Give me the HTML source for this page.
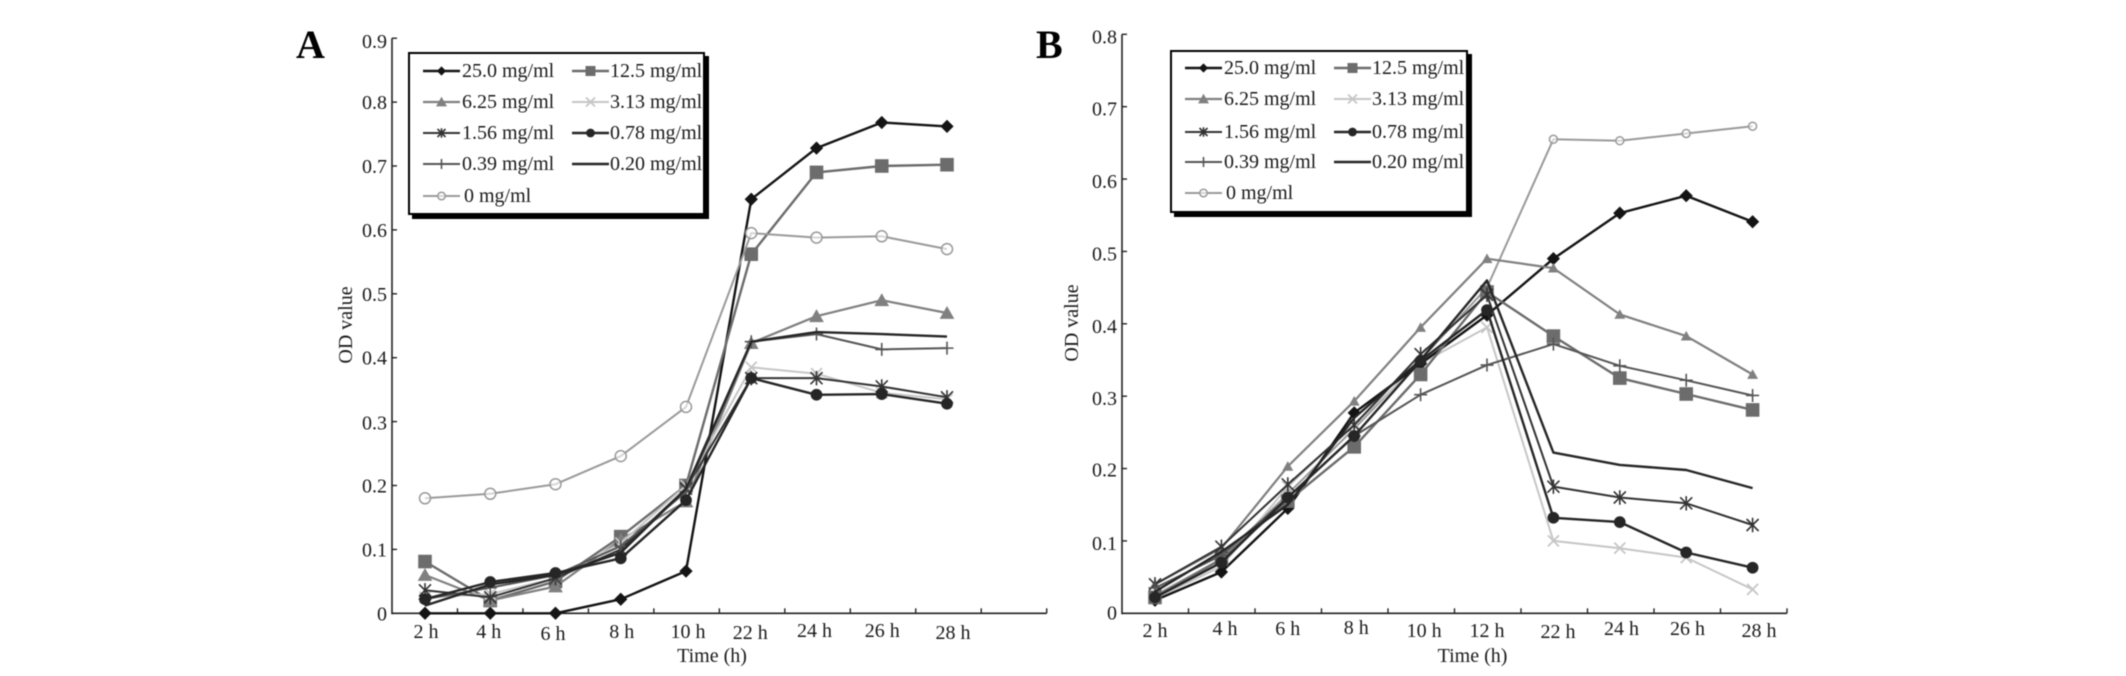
<!DOCTYPE html>
<html lang="en">
<head>
<meta charset="utf-8">
<title>OD value over time, panels A and B</title>
<style>
html,body{margin:0;padding:0;background:#fff;width:2126px;height:676px;overflow:hidden}
svg{display:block;filter:blur(0.4px)}
text{font-family:"Liberation Serif",serif;font-size:20px;fill:#1a1a1a}
</style>
</head>
<body>
<svg id="figure" xmlns="http://www.w3.org/2000/svg" width="2126" height="676" viewBox="0 0 2126 676"></svg>
<script>
// ---- Categories and tick labels ----
const categoriesA = ['2 h','4 h','6 h','8 h','10 h','22 h','24 h','26 h','28 h'];
const categoriesB = ['2 h','4 h','6 h','8 h','10 h','12 h','22 h','24 h','26 h','28 h'];
const yTicksA = [0,0.1,0.2,0.3,0.4,0.5,0.6,0.7,0.8,0.9];
const yTicksB = [0,0.1,0.2,0.3,0.4,0.5,0.6,0.7,0.8];
const seriesNames = ['25.0 mg/ml','12.5 mg/ml','6.25 mg/ml','3.13 mg/ml','1.56 mg/ml','0.78 mg/ml','0.39 mg/ml','0.20 mg/ml','0 mg/ml'];

// ---- Panel A values ----
const a250 = [0,0,0,0.022,0.066,0.648,0.728,0.768,0.762];
const a125 = [0.081,0.02,0.05,0.12,0.2,0.562,0.69,0.7,0.702];
const a625 = [0.06,0.02,0.042,0.115,0.175,0.423,0.465,0.49,0.47];
const a313 = [0.025,0.03,0.055,0.11,0.2,0.385,0.375,0.345,0.335];
const a156 = [0.036,0.025,0.055,0.1,0.195,0.368,0.368,0.355,0.338];
const a078 = [0.022,0.049,0.063,0.086,0.177,0.368,0.342,0.343,0.328];
const a039 = [0.022,0.04,0.06,0.105,0.19,0.425,0.437,0.413,0.415];
const a020 = [0.012,0.045,0.06,0.095,0.195,0.425,0.44,0.437,0.433];
const a000 = [0.18,0.187,0.202,0.246,0.323,0.595,0.588,0.59,0.57];

// ---- Panel B values ----
const b250 = [0.018,0.057,0.145,0.277,0.345,0.412,0.49,0.553,0.577,0.541];
const b125 = [0.022,0.075,0.155,0.23,0.33,0.444,0.383,0.325,0.303,0.281];
const b625 = [0.04,0.09,0.203,0.293,0.395,0.49,0.477,0.413,0.383,0.33];
const b313 = [0.02,0.065,0.175,0.262,0.345,0.395,0.1,0.09,0.077,0.033];
const b156 = [0.04,0.092,0.178,0.26,0.358,0.44,0.175,0.16,0.152,0.122];
const b078 = [0.022,0.07,0.16,0.245,0.349,0.419,0.132,0.126,0.084,0.063];
const b039 = [0.035,0.08,0.16,0.245,0.302,0.343,0.372,0.342,0.322,0.301];
const b020 = [0.03,0.085,0.15,0.27,0.35,0.46,0.222,0.205,0.198,0.173];
const b000 = [0.025,0.075,0.165,0.255,0.35,0.45,0.655,0.653,0.663,0.673];

const valuesA = [a250,a125,a625,a313,a156,a078,a039,a020,a000];
const valuesB = [b250,b125,b625,b313,b156,b078,b039,b020,b000];

// ---- Styling (not data) ----
const styles = [
  {color:'#141414',marker:'diamond',w:2.4},
  {color:'#6c6c6c',marker:'square',w:2.4},
  {color:'#808080',marker:'triangle',w:2.2},
  {color:'#c6c6c6',marker:'cross',w:2},
  {color:'#333333',marker:'star',w:2},
  {color:'#262626',marker:'dot',w:2.4},
  {color:'#555555',marker:'plus',w:2},
  {color:'#262626',marker:'none',w:2.4},
  {color:'#9a9a9a',marker:'ring',w:2}
];

const panels = [
  {id:'a',letter:'A',letterX:296,cats:categoriesA,ticks:yTicksA,vals:valuesA,
   axisX:392,axisEnd:1046.7,top:38.2,bottom:613.3,yMax:0.9,firstX:425,stepX:65.25,bandCount:10,
   order:[0,1,2,3,4,6,7,8,5],
   yLabelRight:387,yLabelDy:[7,7,7,8,7,7,7,7,7,10],
   xNudge:[1,-1.5,-2.5,1,2,-1,-2,0.5,6],xBase:[638,638,640,638,638,639,637,637,639],
   timeX:712,timeY:662,odX:352,odY:325,
   legend:{x:409,y:53,w:295,h:161,rows:[71,102,133,164,196],col:[423,572],lineW:37,text:[462,610]},
   ringR:5.5,triSize:7},
  {id:'b',letter:'B',letterX:1036,cats:categoriesB,ticks:yTicksB,vals:valuesB,
   axisX:1122,axisEnd:1787,top:34.3,bottom:613.3,yMax:0.8,firstX:1155,stepX:66.4,bandCount:10,
   order:[8,3,0,1,2,4,6,7,5],
   yLabelRight:1117,yLabelDy:[6,9,8,9,9,9,9,9,9],
   xNudge:[0,3.6,0,2,3.5,0,4.6,1.7,1.3,6.4],xBase:[637,635,635,634,637,637,638,635,635,637],
   timeX:1472.5,timeY:662,odX:1078,odY:323,
   legend:{x:1171,y:51,w:296,h:161,rows:[68,99,132,162,193],col:[1185,1334],lineW:37,text:[1224,1372]},
   ringR:4,triSize:5.2}
];

const NS = 'http://www.w3.org/2000/svg';
const root = document.getElementById('figure');
function make(tag, attrs, parent, txt){
  const n = document.createElementNS(NS, tag);
  for (const k in attrs) n.setAttribute(k, attrs[k]);
  if (txt !== undefined) n.textContent = txt;
  parent.appendChild(n);
  return n;
}

function drawMarker(parent, kind, x, y, color, s){
  const g = make('g', {}, parent);
  if (kind === 'diamond') make('polygon',{points:[x,y-s*1.05,x+s*1.05,y,x,y+s*1.05,x-s*1.05,y].join(' '),fill:color},g);
  else if (kind === 'square') make('rect',{x:x-s,y:y-s,width:2*s,height:2*s,fill:color},g);
  else if (kind === 'triangle') make('polygon',{points:[x,y-s,x+s*1.05,y+s*0.85,x-s*1.05,y+s*0.85].join(' '),fill:color},g);
  else if (kind === 'dot') make('circle',{cx:x,cy:y,r:s*0.93,fill:color},g);
  else if (kind === 'ring') make('circle',{cx:x,cy:y,r:s,fill:'#fff','fill-opacity':0.6,stroke:color,'stroke-width':1.5},g);
  else if (kind === 'cross') make('path',{d:`M${x-s} ${y-s}L${x+s} ${y+s}M${x-s} ${y+s}L${x+s} ${y-s}`,stroke:color,'stroke-width':1.8,fill:'none'},g);
  else if (kind === 'star') make('path',{d:`M${x-s} ${y-s}L${x+s} ${y+s}M${x-s} ${y+s}L${x+s} ${y-s}M${x} ${y-s*1.2}L${x} ${y+s*1.2}`,stroke:color,'stroke-width':1.6,fill:'none'},g);
  else if (kind === 'plus') make('path',{d:`M${x} ${y-s}L${x} ${y+s}M${x-s} ${y}L${x+s} ${y}`,stroke:color,'stroke-width':1.6,fill:'none'},g);
  return g;
}

function markerSize(kind, p, inLegend){
  if (inLegend) return {diamond:4.4,square:5,triangle:5.2,cross:4.5,star:4,dot:4.7,plus:5,ring:3.8,none:0}[kind];
  if (kind === 'ring') return p.ringR;
  if (kind === 'triangle') return p.triSize;
  return {diamond:6.3,square:6.8,cross:5.5,star:6,dot:6.3,plus:6.5,none:0}[kind];
}

panels.forEach(function(p){
  const panel = make('g', {}, root);
  
  

  const yScale = v => p.bottom - (v / p.yMax) * (p.bottom - p.top);
  const xScale = i => p.firstX + p.stepX * i;

  const letter = make('text',{x:p.letterX,y:58,style:'font-size:40px;font-weight:bold;fill:#000'},panel,p.letter);
  
  

  // axes
  const yAxis = make('line',{x1:p.axisX,y1:p.top,x2:p.axisX,y2:p.bottom+1,stroke:'#222','stroke-width':1.6},panel);
  
  
  const xAxis = make('line',{x1:p.axisX,y1:p.bottom,x2:p.axisEnd,y2:p.bottom,stroke:'#222','stroke-width':1.6},panel);
  
  

  p.ticks.forEach(function(t,i){
    const y = yScale(t);
    const tick = make('line',{x1:p.axisX,y1:y,x2:p.axisX+5,y2:y,stroke:'#222','stroke-width':1.4},panel);
    
    
    const label = make('text',{x:p.yLabelRight,y:y+p.yLabelDy[i],'text-anchor':'end'},panel,String(t));
    
    
  });

  for (let i = 1; i <= p.bandCount; i++){
    const x = p.axisX + (p.axisEnd - p.axisX) * i / p.bandCount;
    const tick = make('line',{x1:x,y1:p.bottom,x2:x,y2:p.bottom-5,stroke:'#222','stroke-width':1.4},panel);
    
    
  }

  p.cats.forEach(function(c,i){
    const label = make('text',{x:xScale(i)+p.xNudge[i],y:p.xBase[i],'text-anchor':'middle'},panel,c);
    
    
  });

  const xTitle = make('text',{x:p.timeX,y:p.timeY,'text-anchor':'middle'},panel,'Time (h)');
  
  
  const yTitle = make('text',{x:p.odX,y:p.odY,'text-anchor':'middle',transform:`rotate(-90 ${p.odX} ${p.odY})`},panel,'OD value');
  
  

  // series
  p.order.forEach(function(s){
    const vals = p.vals[s];
    const st = styles[s];
    const g = make('g', {}, panel);
    
    
    const pts = vals.map((v,i) => xScale(i).toFixed(1) + ',' + yScale(v).toFixed(1)).join(' ');
    const line = make('polyline',{points:pts,fill:'none',stroke:st.color,'stroke-width':st.w,'stroke-linejoin':'round'},g);
    
    
    if (st.marker !== 'none'){
      vals.forEach(function(v,i){
        const m = drawMarker(g, st.marker, xScale(i), yScale(v), st.color, markerSize(st.marker,p,false));
        
        
      });
    }
  });

  // legend
  const L = p.legend;
  const legend = make('g', {}, panel);
  
  
  make('rect',{x:L.x+3,y:L.y+3,width:L.w+2,height:L.h+2,fill:'#000'},legend);
  make('rect',{x:L.x,y:L.y,width:L.w,height:L.h,fill:'#fff',stroke:'#000','stroke-width':2},legend);
  seriesNames.forEach(function(name,s){
    const row = Math.floor(s/2), col = s%2;
    const y = L.rows[row], x0 = L.col[col], st = styles[s];
    const entry = make('g', {}, legend);
    
    
    make('line',{x1:x0,y1:y,x2:x0+L.lineW,y2:y,stroke:st.color,'stroke-width':st.w},entry);
    if (st.marker !== 'none') drawMarker(entry, st.marker, x0+L.lineW/2, y, st.color, markerSize(st.marker,p,true));
    make('text',{x:L.text[col]+(name==='0 mg/ml'?2:0),y:y+6},entry,name);
  });
});
</script>
</body>
</html>
